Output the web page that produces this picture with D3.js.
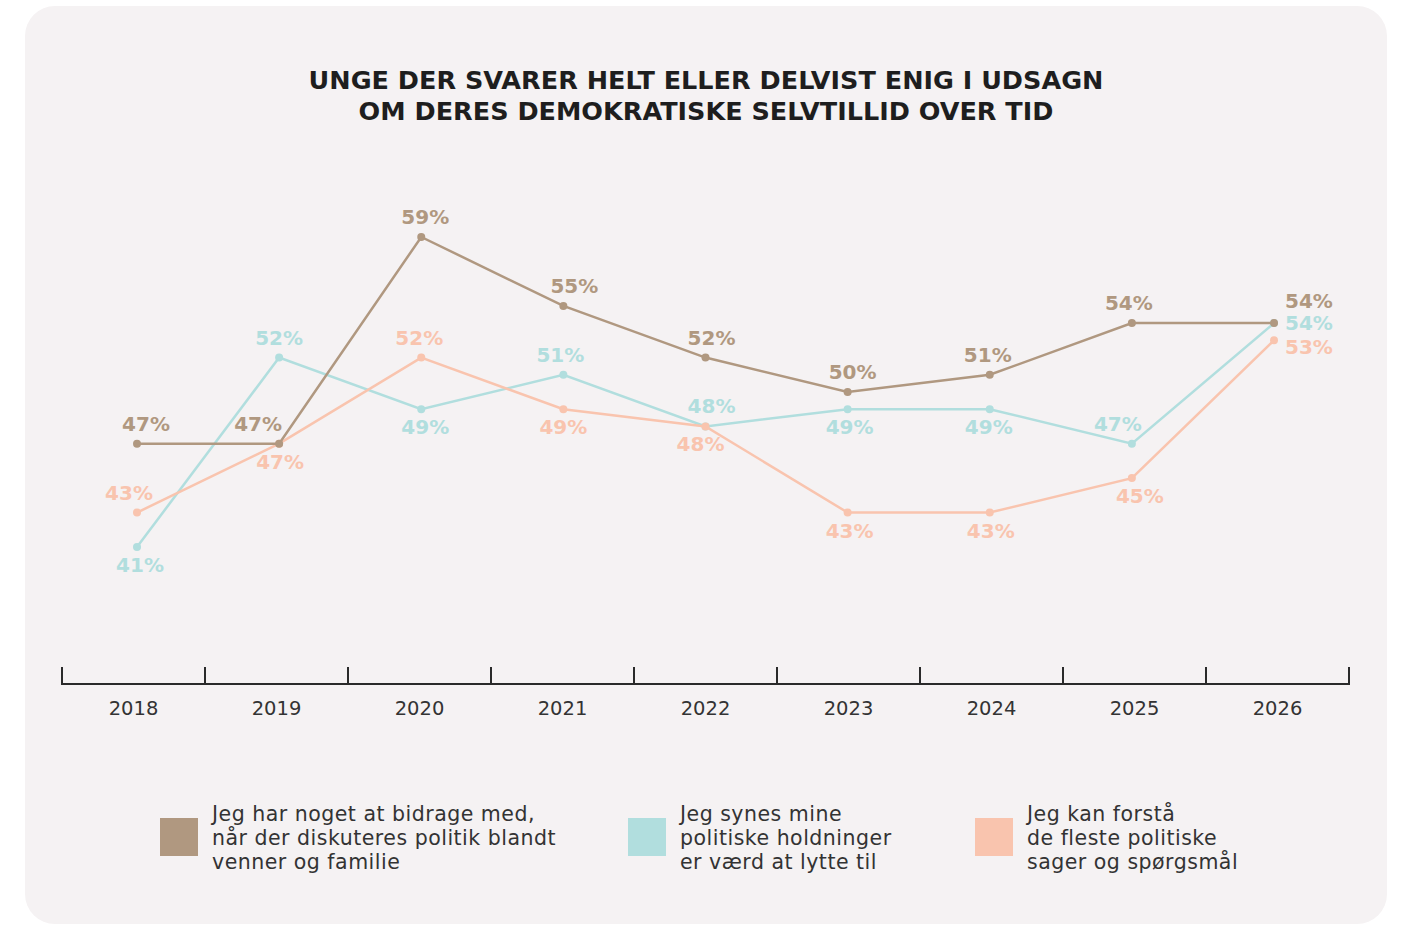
<!DOCTYPE html>
<html>
<head>
<meta charset="utf-8">
<script src="https://cdn.jsdelivr.net/npm/d3@7"></script>
<style>
  body { margin: 0; background: #fff; }
  svg { display: block; }
</style>
</head>
<body>
<div id="chart"></div>
<script>
// data
const years = ['2018', '2019', '2020', '2021', '2022', '2023', '2024', '2025', '2026'];
const bidrage = [47, 47, 59, 55, 52, 50, 51, 54, 54];
const lytte = [41, 52, 49, 51, 48, 49, 49, 47, 54];
const forstaa = [43, 47, 52, 49, 48, 43, 43, 45, 53];

const seriesNames = [
    'Jeg har noget at bidrage med,|når der diskuteres politik blandt|venner og familie',
    'Jeg synes mine|politiske holdninger|er værd at lytte til',
    'Jeg kan forstå|de fleste politiske|sager og spørgsmål',
];
const titleLines = [
    'UNGE DER SVARER HELT ELLER DELVIST ENIG I UDSAGN',
    'OM DERES DEMOKRATISKE SELVTILLID OVER TID',
];

// label placement: a = above, b = below, r = right of point
const labelSide = [
    ['a', 'a', 'a', 'a', 'a', 'a', 'a', 'a', 'ra'],
    ['b', 'a', 'b', 'a', 'a', 'b', 'b', 'a', 'r'],
    ['a', 'b', 'a', 'b', 'b', 'b', 'b', 'b', 'rb'],
];
const labelNudge = [
    [9, -21, 4, 11, 6, 5, -2, -3, 0],
    [3, 0, 4, -3, 6, 2, -1, -14, 0],
    [-8, 1, -2, 0, -5, 2, 1, 8, 0],
];

const colors = ['#b09880', '#b1dede', '#f9c4ae'];
const W = 1401, H = 926;

const svg = d3.select('#chart').append('svg')
    .attr('width', W)
    .attr('height', H);

svg.append('rect')
    .attr('x', 25).attr('y', 6)
    .attr('width', 1362).attr('height', 918)
    .attr('rx', 30)
    .attr('fill', '#f5f2f3');

svg.append('g')
    .selectAll('text')
    .data(titleLines)
    .join('text')
    .attr('x', 706)
    .attr('y', (_, i) => 89 + i * 31)
    .attr('text-anchor', 'middle')
    .attr('font-family', 'DejaVu Sans')
    .attr('font-weight', 'bold')
    .attr('font-size', '25.5px')
    .attr('fill', '#1e1e1e')
    .text((d) => d);

// band scale for the axis, point scale for the markers
const x = d3.scaleBand()
    .domain(years)
    .range([62, 1349])
    .padding(0);
const xp = d3.scalePoint()
    .domain(years)
    .range([137, 1274]);

const y = d3.scaleLinear()
    .domain([41, 59])
    .range([547, 237]);

const axisY = 684;
const axis = svg.append('g').attr('stroke', '#2a2a2a').attr('stroke-width', 2);
axis.append('line')
    .attr('x1', x.range()[0]).attr('x2', x.range()[1])
    .attr('y1', axisY).attr('y2', axisY);
axis.selectAll('.tick')
    .data([...years.map((d) => x(d)), x.range()[1]])
    .join('line')
    .attr('class', 'tick')
    .attr('x1', (d) => d).attr('x2', (d) => d)
    .attr('y1', axisY - 17).attr('y2', axisY + 1);

svg.append('g')
    .selectAll('text')
    .data(years)
    .join('text')
    .attr('x', (d) => x(d) + x.bandwidth() / 2)
    .attr('y', 715)
    .attr('text-anchor', 'middle')
    .attr('font-family', 'DejaVu Sans')
    .attr('font-size', '19.5px')
    .attr('fill', '#333')
    .text((d) => d);

const series = [bidrage, lytte, forstaa];
const drawOrder = [1, 2, 0];
const line = d3.line().x((d) => xp(d.year)).y((d) => y(d.value));

drawOrder.forEach((si) => {
    const pts = series[si].map((v, i) => ({ year: years[i], value: v, i }));
    const g = svg.append('g');
    g.append('path')
        .datum(pts)
        .attr('d', line)
        .attr('fill', 'none')
        .attr('stroke', colors[si])
        .attr('stroke-width', 2.5);
    g.selectAll('circle')
        .data(pts)
        .join('circle')
        .attr('cx', (d) => xp(d.year))
        .attr('cy', (d) => y(d.value))
        .attr('r', 4)
        .attr('fill', colors[si]);
    g.selectAll('text')
        .data(pts)
        .join('text')
        .attr('x', (d) => {
            const side = labelSide[si][d.i];
            if (side[0] === 'r') return xp(d.year) + 11;
            return xp(d.year) + labelNudge[si][d.i];
        })
        .attr('y', (d) => {
            const side = labelSide[si][d.i];
            if (side === 'ra') return y(d.value) - 22;
            if (side === 'rb') return y(d.value) + 7;
            if (side === 'r') return y(d.value);
            return y(d.value) + (side === 'a' ? -20 : 18);
        })
        .attr('text-anchor', (d) => (labelSide[si][d.i][0] === 'r' ? 'start' : 'middle'))
        .attr('dominant-baseline', 'central')
        .attr('font-family', 'DejaVu Sans')
        .attr('font-weight', 'bold')
        .attr('font-size', '20px')
        .attr('fill', colors[si])
        .text((d) => d.value + '%');
});

// legend
const legendX = [160, 628, 975];
const legend = svg.append('g')
    .selectAll('g')
    .data(seriesNames)
    .join('g')
    .attr('transform', (_, i) => `translate(${legendX[i]}, 818)`);
legend.append('rect')
    .attr('width', 38).attr('height', 38)
    .attr('fill', (_, i) => colors[i]);
legend.append('text')
    .attr('font-family', 'DejaVu Sans')
    .attr('font-size', '20.5px')
    .attr('letter-spacing', '0.5px')
    .attr('fill', '#333')
    .selectAll('tspan')
    .data((d) => d.split('|'))
    .join('tspan')
    .attr('x', 52)
    .attr('y', (_, i) => 3 + i * 24)
    .text((d) => d);
</script>
</body>
</html>
